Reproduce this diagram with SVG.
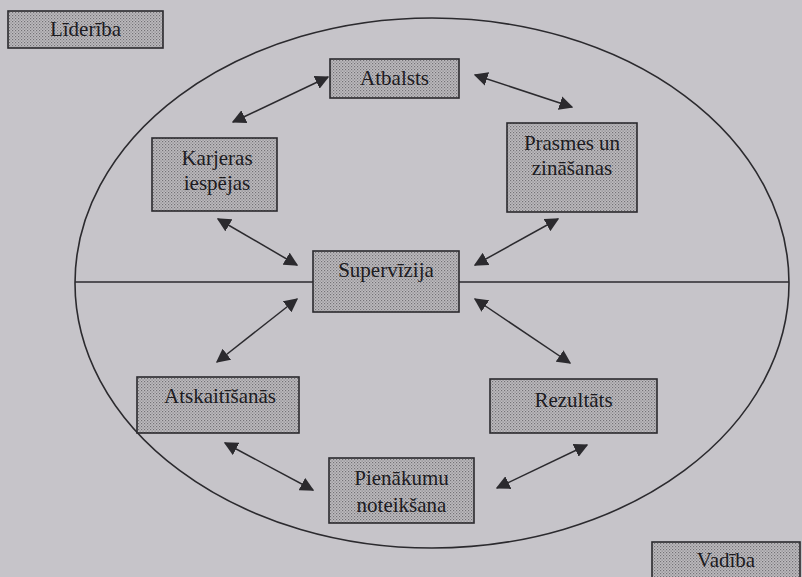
<svg xmlns="http://www.w3.org/2000/svg" width="802" height="577" viewBox="0 0 802 577">
<defs>
<pattern id="dots" width="3" height="3" patternUnits="userSpaceOnUse">
<rect width="3" height="3" fill="#bebcbf"/>
<rect x="0" y="0" width="1.2" height="1.2" fill="#747277"/>
<rect x="1.5" y="1.5" width="1.2" height="1.2" fill="#858388"/>
</pattern>
<marker id="ah" viewBox="0 0 10 10" refX="9" refY="5" markerWidth="14" markerHeight="14" markerUnits="userSpaceOnUse" orient="auto-start-reverse">
<path d="M0,0 L10,5 L0,10 z" fill="#2b2a2e"/>
</marker>
<style>
.box rect{fill:url(#dots);stroke:#2b2a2e;stroke-width:1.6}
.box text{font-family:"Liberation Serif","Times New Roman",serif;font-size:21px;fill:#1c1b1f;text-anchor:middle}
.conn line{stroke:#2b2a2e;stroke-width:1.5;marker-start:url(#ah);marker-end:url(#ah)}
</style>
</defs>
<rect width="802" height="577" fill="#c6c4c9"/>
<g id="frame" fill="none" stroke="#2b2a2e" stroke-width="1.6">
<ellipse cx="432" cy="283" rx="357" ry="265"/>
<line x1="75" y1="282" x2="313" y2="282"/>
<line x1="459" y1="282" x2="789" y2="282"/>
</g>
<g id="connectors" class="conn">
<line x1="233" y1="122" x2="328" y2="77"/>
<line x1="475" y1="75" x2="572" y2="107"/>
<line x1="218" y1="219" x2="297" y2="265"/>
<line x1="558" y1="219" x2="475" y2="265"/>
<line x1="297" y1="299" x2="217" y2="362"/>
<line x1="475" y1="299" x2="570" y2="363"/>
<line x1="225" y1="443" x2="313" y2="490"/>
<line x1="587" y1="445" x2="497" y2="488"/>
</g>
<g id="lideriba" class="box"><rect x="8" y="11" width="155" height="37"/><text x="85.5" y="36">Līderība</text></g>
<g id="atbalsts" class="box"><rect x="330" y="59" width="129" height="39"/><text x="394.5" y="85">Atbalsts</text></g>
<g id="karjeras" class="box"><rect x="152" y="138" width="125" height="73"/><text x="217" y="165">Karjeras</text><text x="217" y="190">iespējas</text></g>
<g id="prasmes" class="box"><rect x="507" y="123" width="130" height="89"/><text x="572" y="150">Prasmes un</text><text x="572" y="175">zināšanas</text></g>
<g id="supervizija" class="box"><rect x="313" y="251" width="146" height="61"/><text x="386" y="277">Supervīzija</text></g>
<g id="atskaitisanas" class="box"><rect x="137" y="377" width="162" height="56"/><text x="220" y="403">Atskaitīšanās</text></g>
<g id="rezultats" class="box"><rect x="490" y="379" width="167" height="54"/><text x="573.5" y="407">Rezultāts</text></g>
<g id="pienakumu" class="box"><rect x="329" y="458" width="145" height="65"/><text x="401.5" y="485">Pienākumu</text><text x="401.5" y="512">noteikšana</text></g>
<g id="vadiba" class="box"><rect x="652" y="542" width="148" height="40"/><text x="726" y="567">Vadība</text></g>
</svg>
